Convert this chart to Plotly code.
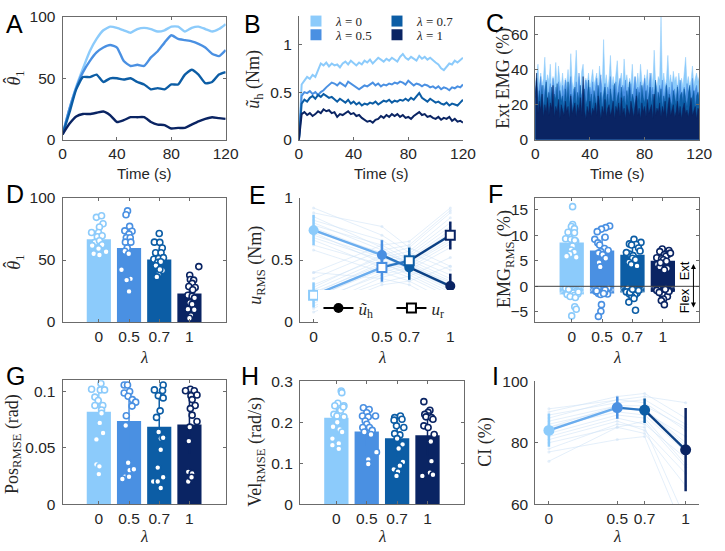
import plotly.graph_objects as go

W, H = 725, 551

# ---------------- data ----------------
lam_labels = ['0', '0.5', '0.7', '1']
lam_vals = [0, 0.5, 0.7, 1]
bar_pos = [1, 2, 3, 4]
colors = ['#8CCBFB', '#4A90E2', '#0C5DA5', '#0A2463']

# A: theta_hat over time (5 s samples)
t_A = list(range(0, 121, 5))
thetaA_0 = [4.5, 25, 43, 58, 72, 82, 89, 92, 91, 89, 87, 90, 91, 90, 88, 89, 92, 92, 88, 91, 92, 90, 88, 90, 94]
thetaA_05 = [4.5, 25, 42, 55, 64, 71, 75, 77, 75, 64, 60, 61, 60, 67, 72, 79, 85, 82, 81, 80, 78, 75, 70, 68, 73]
thetaA_07 = [4.5, 22, 41, 51, 51, 53, 47, 50, 50, 49, 50, 47, 45, 41, 42, 41, 45, 45, 53, 57, 53, 46, 47, 53, 55]
thetaA_1 = [4.5, 13, 19, 21, 21, 22, 23, 20, 14.5, 16, 18.4, 18.4, 18.4, 14.5, 12.4, 12, 9.2, 9.7, 9.7, 12.4, 15, 17, 18.4, 17.6, 17]

# B: u_h over time (2 s samples)
t_B = list(range(0, 121, 2))
uhB_0 = [0.00, 0.58, 0.62, 0.66, 0.64, 0.68, 0.66, 0.74, 0.80, 0.78,
         0.81, 0.77, 0.80, 0.78, 0.79, 0.76, 0.80, 0.82, 0.79, 0.83,
         0.80, 0.78, 0.81, 0.79, 0.83, 0.81, 0.84, 0.80, 0.83, 0.86,
         0.84, 0.82, 0.85, 0.83, 0.86, 0.84, 0.82, 0.87, 0.90, 0.86,
         0.84, 0.87, 0.85, 0.83, 0.88, 0.85, 0.87, 0.84, 0.86, 0.83,
         0.81, 0.79, 0.75, 0.73, 0.77, 0.80, 0.79, 0.83, 0.81, 0.84,
         0.86]
uhB_05 = [0.00, 0.46, 0.50, 0.49, 0.51, 0.48, 0.50, 0.47, 0.50, 0.52,
          0.55, 0.58, 0.60, 0.59, 0.57, 0.60, 0.58, 0.56, 0.61, 0.59,
          0.57, 0.55, 0.53, 0.55, 0.57, 0.56, 0.58, 0.60, 0.57, 0.59,
          0.56, 0.58, 0.57, 0.59, 0.58, 0.60, 0.59, 0.61, 0.60, 0.58,
          0.62, 0.59, 0.57, 0.59, 0.58, 0.56, 0.58, 0.57, 0.55, 0.56,
          0.54, 0.56, 0.53, 0.55, 0.54, 0.52, 0.55, 0.54, 0.56, 0.55,
          0.58]
uhB_07 = [0.00, 0.38, 0.42, 0.40, 0.44, 0.46, 0.43, 0.47, 0.45, 0.48,
          0.46, 0.44, 0.45, 0.42, 0.40, 0.43, 0.41, 0.39, 0.42, 0.38,
          0.40, 0.37, 0.39, 0.36, 0.38, 0.37, 0.39, 0.38, 0.40, 0.37,
          0.39, 0.41, 0.40, 0.42, 0.39, 0.41, 0.40, 0.42, 0.41, 0.43,
          0.41, 0.44, 0.42, 0.45, 0.49, 0.44, 0.42, 0.40, 0.43, 0.41,
          0.39, 0.40, 0.38, 0.37, 0.39, 0.36, 0.38, 0.37, 0.36, 0.39,
          0.42]
uhB_1 = [0.00, 0.27, 0.29, 0.26, 0.28, 0.25, 0.27, 0.30, 0.28, 0.32,
         0.30, 0.31, 0.28, 0.29, 0.24, 0.27, 0.26, 0.28, 0.30, 0.27,
         0.28, 0.25, 0.26, 0.23, 0.21, 0.19, 0.20, 0.18, 0.21, 0.22,
         0.25, 0.23, 0.26, 0.24, 0.27, 0.25, 0.27, 0.24, 0.26, 0.23,
         0.24, 0.22, 0.25, 0.27, 0.29, 0.26, 0.27, 0.24, 0.25, 0.23,
         0.22, 0.24, 0.21, 0.23, 0.22, 0.24, 0.20, 0.22, 0.19, 0.20,
         0.18]

# C: extensor EMG over time (1 s samples)
t_C = list(range(0, 121, 1))
emgC_0 = [32, 36, 43, 29, 38, 31, 35, 47, 30, 37,
          33, 43, 28, 36, 31, 44, 29, 42, 34, 30,
          38, 28, 35, 32, 40, 30, 49, 33, 29, 37,
          51, 31, 36, 28, 39, 43, 30, 35, 32, 38,
          29, 36, 40, 31, 34, 38, 28, 42, 33, 30,
          57, 32, 37, 29, 35, 48, 31, 36, 30, 39,
          45, 30, 34, 38, 29, 46, 33, 37, 30, 35,
          32, 43, 29, 36, 31, 38, 30, 43, 34, 29,
          37, 32, 40, 30, 35, 38, 31, 51, 33, 29,
          36, 34, 70, 31, 38, 30, 35, 48, 32, 37,
          30, 39, 33, 36, 29, 38, 31, 35, 30, 37,
          47, 32, 36, 30, 34, 42, 31, 35, 38, 33,
          36]
emgC_05 = [27, 33, 24, 30, 36, 22, 31, 27, 34, 23,
           29, 32, 21, 35, 26, 30, 24, 33, 28, 22,
           31, 25, 34, 27, 23, 30, 36, 24, 29, 26,
           33, 22, 38, 27, 25, 31, 23, 34, 28, 24,
           30, 26, 33, 22, 29, 35, 25, 31, 37, 23,
           28, 32, 24, 30, 27, 36, 22, 31, 26, 33,
           25, 29, 35, 23, 31, 27, 34, 24, 30, 26,
           32, 23, 28, 36, 25, 30, 27, 33, 22, 29,
           35, 26, 31, 24, 38, 27, 30, 23, 33, 28,
           25, 31, 27, 34, 22, 29, 32, 26, 30, 24,
           33, 27, 29, 23, 31, 26, 34, 25, 28, 30,
           24, 32, 27, 30, 23, 35, 26, 29, 31, 25,
           28]
emgC_07 = [26, 35, 19, 28, 22, 31, 18, 25, 33, 20,
           27, 21, 30, 17, 26, 23, 32, 19, 28, 22,
           25, 18, 29, 21, 33, 20, 26, 17, 24, 30,
           19, 27, 22, 31, 18, 25, 29, 20, 23, 34,
           21, 26, 18, 28, 24, 19, 31, 22, 27, 17,
           25, 30, 20, 26, 18, 29, 23, 21, 32, 19,
           24, 27, 18, 30, 22, 25, 19, 28, 21, 33,
           20, 26, 23, 18, 29, 22, 27, 19, 31, 24,
           21, 28, 18, 25, 30, 20, 26, 22, 34, 19,
           27, 23, 29, 18, 25, 21, 31, 20, 26, 22,
           19, 28, 24, 20, 30, 18, 25, 27, 21, 29,
           23, 19, 26, 31, 20, 24, 28, 18, 25, 27,
           22]
emgC_1 = [24, 38, 15, 22, 17, 26, 13, 20, 16, 24,
          14, 21, 18, 31, 13, 19, 16, 23, 12, 20,
          17, 14, 22, 16, 19, 12, 25, 15, 18, 21,
          13, 20, 16, 24, 14, 36, 17, 12, 19, 15,
          22, 13, 18, 16, 21, 14, 25, 17, 12, 19,
          15, 23, 13, 18, 20, 14, 17, 22, 12, 19,
          16, 21, 13, 24, 15, 18, 12, 20, 17, 14,
          22, 16, 13, 19, 25, 14, 18, 12, 21, 16,
          19, 13, 23, 15, 17, 20, 12, 26, 14, 18,
          16, 21, 13, 19, 15, 22, 12, 18, 24, 14,
          17, 20, 13, 16, 22, 14, 19, 12, 18, 21,
          15, 17, 13, 20, 24, 14, 16, 19, 12, 18,
          17]

# D: theta_hat per lambda
thetaD_mean = [66.8, 59.7, 50.4, 23.1]
thetaD_sd = [9, 15, 9, 10]
thetaD_pts = [
    [84.4, 85.7, 79.2, 76.6, 72.2, 72.2, 68.8, 69.6, 64.2, 65.5, 61.6, 62.3, 59.2, 56.6, 55.1, 54.0],
    [89.6, 86.5, 77.1, 73.5, 73.2, 70.9, 68.0, 68.0, 64.4, 64.4, 59.7, 57.1, 55.1, 42.1, 34.8, 33.8, 24.7],
    [71.4, 64.4, 64.2, 59.7, 55.8, 55.8, 50.6, 51.2, 51.9, 48.1, 48.6, 45.5, 41.6, 38.4, 36.4, 42.3],
    [44.7, 37.7, 34.3, 33.8, 31.2, 28.6, 27.8, 26.0, 21.6, 20.8, 19.5, 15.6, 14.3, 10.4, 9.9, 5.2, 3.1],
]
thetaD_jit = [
    [-0.08, 0.09, 0.14, 0.02, -0.24, -0.01, -0.05, 0.11, -0.13, 0.02, -0.22, 0.11, -0.01, 0.24, -0.17, 0.02],
    [-0.05, -0.10, 0.02, -0.14, 0.10, 0.0, -0.09, 0.04, -0.12, 0.06, -0.06, -0.14, -0.01, -0.25, 0.05, -0.08, 0.0],
    [0.0, -0.16, 0.02, 0.10, -0.12, 0.06, -0.18, -0.02, 0.14, -0.05, 0.05, -0.11, 0.11, -0.03, -0.08, 0.02],
    [0.31, 0.01, 0.03, 0.14, 0.09, -0.02, 0.19, 0.11, -0.05, 0.09, 0.17, 0.01, 0.09, -0.05, 0.16, 0.05, 0.0],
]

# E: RMS torques per lambda
uh_mean = [0.74, 0.54, 0.44, 0.29]
uh_hi = [0.865, 0.66, 0.545, 0.39]
uh_lo = [0.62, 0.415, 0.34, 0.195]
ur_mean = [0.215, 0.44, 0.495, 0.70]
ur_hi = [0.32, 0.56, 0.60, 0.81]
ur_lo = [0.117, 0.325, 0.40, 0.585]
uh_subj = [
    [0.92, 0.88, 0.85, 0.82, 0.80, 0.78, 0.76, 0.75, 0.73, 0.72, 0.70, 0.68, 0.66, 0.62, 0.58, 0.40],
    [0.70, 0.77, 0.60, 0.66, 0.58, 0.62, 0.55, 0.53, 0.56, 0.48, 0.52, 0.50, 0.44, 0.46, 0.40, 0.35],
    [0.56, 0.60, 0.47, 0.52, 0.46, 0.50, 0.44, 0.42, 0.48, 0.38, 0.45, 0.41, 0.36, 0.40, 0.33, 0.30],
    [0.42, 0.45, 0.30, 0.38, 0.28, 0.35, 0.27, 0.26, 0.33, 0.22, 0.32, 0.29, 0.20, 0.24, 0.16, 0.12],
]
ur_subj = [
    [0.08, 0.11, 0.13, 0.15, 0.17, 0.19, 0.20, 0.21, 0.22, 0.23, 0.24, 0.26, 0.28, 0.30, 0.35, 0.40],
    [0.30, 0.36, 0.32, 0.40, 0.38, 0.44, 0.42, 0.45, 0.43, 0.48, 0.46, 0.50, 0.54, 0.52, 0.58, 0.62],
    [0.33, 0.42, 0.37, 0.46, 0.44, 0.50, 0.47, 0.51, 0.48, 0.53, 0.49, 0.55, 0.60, 0.57, 0.62, 0.65],
    [0.45, 0.60, 0.52, 0.65, 0.63, 0.72, 0.67, 0.74, 0.69, 0.77, 0.70, 0.80, 0.88, 0.84, 0.90, 0.92],
]

# F: EMG RMS (ext positive, flex negative)
emgF_ext_mean = [8.57, 7.0, 6.2, 5.0]
emgF_ext_sd = [2.6, 2.9, 1.7, 1.4]
emgF_flex_mean = [-1.6, -1.4, -1.2, -1.1]
emgF_ext_pts = [
    [15.6, 12.1, 11.7, 11.3, 10.6, 10.5, 9.3, 9.2, 8.8, 7.9, 7.1, 6.7, 6.3, 5.9, 5.7, 9.0],
    [11.8, 11.5, 11.2, 10.7, 9.6, 9.2, 8.5, 8.1, 7.4, 6.8, 6.5, 6.2, 5.5, 4.6, 3.8, 7.0],
    [9.2, 8.6, 8.3, 8.2, 8.1, 7.5, 6.9, 6.3, 6.0, 5.5, 4.7, 4.6, 4.3, 4.0, 6.6, 5.2],
    [7.3, 7.0, 6.8, 6.3, 6.2, 5.9, 5.6, 5.4, 5.2, 4.9, 4.3, 3.8, 3.5, 3.2, 4.6, 6.5],
]
emgF_flex_pts = [
    [-0.4, -0.7, -0.9, -1.0, -1.2, -1.3, -1.5, -1.6, -1.8, -2.0, -2.2, -4.0, -4.5, -5.8, -0.6, -1.1],
    [-0.3, -0.6, -0.8, -1.0, -1.1, -1.3, -1.4, -1.5, -1.6, -1.2, -0.9, -3.6, -4.9, -5.9, -0.7, -1.4],
    [-0.3, -0.5, -0.7, -0.9, -1.0, -1.1, -1.3, -1.5, -1.7, -2.0, -2.4, -3.1, -4.7, -0.8, -1.2, -0.6],
    [-0.3, -0.5, -0.7, -0.9, -1.1, -1.3, -1.4, -1.7, -2.0, -2.5, -2.8, -3.6, -0.8, -1.0, -1.2, -0.6],
]
emgF_ext_jit = [
    [0.03, 0.03, -0.01, 0.09, -0.12, 0.09, -0.2, -0.03, 0.13, 0.03, -0.02, 0.09, -0.06, -0.17, 0.15, 0.1],
    [0.25, 0.12, -0.02, -0.16, 0.1, -0.24, -0.14, -0.08, 0.08, -0.04, -0.12, 0.02, 0.12, -0.1, -0.06, 0.2],
    [0.05, 0.28, -0.1, 0.12, -0.03, 0.2, 0.25, -0.1, 0.02, 0.0, -0.12, 0.07, -0.04, 0.15, -0.2, 0.1],
    [-0.02, 0.2, -0.1, 0.18, 0.05, 0.1, -0.2, -0.04, 0.02, 0.12, -0.18, -0.1, 0.15, 0.05, -0.08, 0.25],
]
emgF_flex_jit = [
    [-0.2, 0.1, -0.05, 0.15, -0.12, 0.05, 0.2, -0.15, 0.08, -0.05, 0.12, 0.1, 0.15, 0.0, -0.1, 0.22],
    [0.2, -0.1, 0.05, -0.2, 0.12, 0.0, -0.12, 0.18, -0.05, 0.08, -0.18, -0.02, -0.04, -0.12, 0.1, 0.05],
    [-0.15, 0.1, 0.2, -0.05, 0.05, -0.2, 0.15, -0.1, 0.08, -0.02, 0.05, -0.12, 0.1, 0.2, -0.08, 0.0],
    [0.1, -0.15, 0.05, 0.2, -0.1, 0.12, -0.05, 0.0, 0.15, 0.02, -0.05, 0.05, -0.2, 0.2, -0.12, 0.08],
]

# G: position RMSE
posG_mean = [0.0819, 0.0738, 0.0687, 0.0707]
posG_sd = [0.022, 0.026, 0.03, 0.026]
posG_pts = [
    [0.107, 0.102, 0.1014, 0.1014, 0.095, 0.092, 0.0876, 0.0876, 0.0836, 0.0807, 0.0721, 0.0632, 0.0575, 0.0353, 0.0336, 0.0267],
    [0.1057, 0.1057, 0.0986, 0.1000, 0.0957, 0.0928, 0.0905, 0.087, 0.0784, 0.0698, 0.0368, 0.0302, 0.031, 0.0244, 0.0244, 0.0224],
    [0.1014, 0.1057, 0.1009, 0.0963, 0.0943, 0.0828, 0.077, 0.0641, 0.0583, 0.0589, 0.0483, 0.0325, 0.0201, 0.0201, 0.0239, 0.0144],
    [0.102, 0.1006, 0.1006, 0.0963, 0.0968, 0.0928, 0.0876, 0.0848, 0.079, 0.0733, 0.0684, 0.056, 0.0287, 0.0273, 0.0201, 0.0239],
]
posG_jit = [
    [0.07, -0.24, 0.05, 0.19, -0.13, -0.02, -0.13, 0.13, 0.09, 0.09, 0.03, 0.14, -0.08, -0.08, 0.02, 0.0],
    [-0.16, -0.05, -0.16, 0.02, -0.03, 0.11, 0.22, 0.10, -0.09, -0.11, -0.03, 0.02, 0.16, -0.14, 0.0, -0.22],
    [-0.16, 0.13, 0.11, -0.03, 0.13, 0.03, -0.09, -0.02, 0.05, 0.13, 0.05, -0.05, -0.2, -0.05, 0.13, 0.05],
    [0.03, -0.13, 0.16, 0.05, 0.25, 0.09, 0.19, 0.03, 0.09, 0.25, 0.01, -0.02, -0.04, 0.09, -0.04, 0.07],
]

# H: velocity RMSE
velH_mean = [0.211, 0.177, 0.161, 0.168]
velH_sd = [0.04, 0.035, 0.045, 0.05]
velH_pts = [
    [0.276, 0.272, 0.246, 0.240, 0.240, 0.229, 0.237, 0.219, 0.215, 0.213, 0.200, 0.189, 0.182, 0.176, 0.160, 0.148, 0.144, 0.135],
    [0.235, 0.231, 0.223, 0.215, 0.213, 0.215, 0.203, 0.195, 0.187, 0.187, 0.180, 0.127, 0.109, 0.098, 0.176, 0.170],
    [0.211, 0.215, 0.207, 0.205, 0.191, 0.187, 0.169, 0.172, 0.146, 0.136, 0.103, 0.094, 0.085, 0.079, 0.069, 0.160],
    [0.250, 0.229, 0.224, 0.219, 0.215, 0.213, 0.211, 0.207, 0.191, 0.187, 0.170, 0.153, 0.105, 0.069, 0.077, 0.072],
]
velH_jit = [
    [0.16, 0.18, 0.05, 0.25, -0.05, 0.14, 0.23, -0.08, 0.02, 0.25, 0.03, -0.11, 0.11, 0.19, -0.13, 0.08, -0.13, 0.08],
    [-0.11, 0.08, 0.0, -0.14, 0.05, 0.29, -0.05, 0.0, -0.13, 0.09, 0.18, 0.32, 0.05, 0.05, -0.08, 0.14],
    [-0.08, 0.11, 0.16, -0.1, -0.02, 0.22, 0.09, -0.08, 0.18, 0.05, 0.19, 0.09, -0.11, 0.03, -0.02, 0.0],
    [-0.12, 0.08, 0.02, -0.09, 0.05, -0.05, 0.13, 0.18, -0.12, 0.02, 0.22, 0.11, 0.13, -0.17, 0.08, 0.18],
]

# I: compliance index
ci_mean = [84.0, 91.4, 90.6, 77.7]
ci_hi = [89.5, 95.0, 94.4, 91.3]
ci_lo = [78.7, 87.8, 86.4, 64.2]
ci_subj = [
    [91, 90, 89, 88, 87, 86, 85, 85, 84, 83, 82, 81, 80, 78, 77, 74],
    [94, 95, 93, 94, 92, 91, 92, 90, 91, 89, 88, 87, 85, 86, 81, 85],
    [95, 96, 94, 93, 92, 91, 90, 89, 91, 88, 86, 84, 83, 85, 82, 87],
    [93, 88, 86, 84, 85, 80, 82, 77, 79, 73, 75, 70, 66, 55, 50, 72],
]

# ---------------- styling helpers ----------------
SANS = 'Liberation Sans, Arial, sans-serif'
SERIF = 'Liberation Serif, Times New Roman, serif'
TXT = '#262626'
AXC = '#6b6b6b'
FAINT = 'rgba(205,225,246,0.55)'


def mix(a, b):
    a = a.lstrip('#'); b = b.lstrip('#')
    ca = [int(a[i:i + 2], 16) for i in (0, 2, 4)]
    cb = [int(b[i:i + 2], 16) for i in (0, 2, 4)]
    return 'rgb(%d,%d,%d)' % tuple((x + y) // 2 for x, y in zip(ca, cb))


def px(xp):
    return xp / W


def py(yp):
    return 1 - yp / H


boxes = {1: (60, 227, 8, 135), 2: (302, 470, 7, 135), 3: (544, 712, 8, 135),
         4: (60, 227, 195, 323), 5: (303, 471, 195, 323), 6: (544, 712, 195, 323),
         7: (60, 227, 383, 511), 8: (303, 471, 384, 511), 9: (544, 712, 384, 511)}
boxed = {1: True, 2: False, 3: True, 4: True, 5: False, 6: True, 7: True, 8: True, 9: False}

layout = dict(width=W, height=H, margin=dict(l=0, r=0, t=0, b=0),
              paper_bgcolor='white', plot_bgcolor='white', barmode='overlay',
              showlegend=True)

for i in range(1, 10):
    x0, x1, y0, y1 = boxes[i]
    s = '' if i == 1 else str(i)
    common = dict(showline=True, linecolor=AXC, linewidth=1, ticks='inside', ticklen=3,
                  tickcolor=AXC, tickwidth=1, showgrid=False, zeroline=False,
                  tickfont=dict(family=SANS, size=15.5, color=TXT),
                  mirror='ticks' if boxed[i] else False, fixedrange=True)
    layout['xaxis' + s] = dict(domain=[x0 / W, x1 / W], anchor='y' + s, ticklabelstandoff=0, **common)
    layout['yaxis' + s] = dict(domain=[1 - y1 / H, 1 - y0 / H], anchor='x' + s, ticklabelstandoff=3, **common)

time_ax = dict(range=[0, 120], tickvals=[0, 40, 80, 120])
bar_ax = dict(range=[-0.2, 5.2], tickvals=bar_pos, ticktext=lam_labels)
lam_ax = dict(range=[-0.1, 1.1], tickvals=lam_vals, ticktext=lam_labels)
for s in ['', '2', '3']:
    layout['xaxis' + s].update(time_ax)
for s in ['4', '6', '7', '8']:
    layout['xaxis' + s].update(bar_ax)
for s in ['5', '9']:
    layout['xaxis' + s].update(lam_ax)
layout['yaxis'].update(range=[0, 100], tickvals=[0, 50, 100])
layout['yaxis2'].update(range=[0, 1.3], tickvals=[0, 0.5, 1], ticktext=['0', '0.5', '1'])
layout['yaxis3'].update(range=[0, 70], tickvals=[0, 20, 40, 60])
layout['yaxis4'].update(range=[0, 100], tickvals=[0, 50, 100])
layout['yaxis5'].update(range=[0, 1], tickvals=[0, 0.5, 1], ticktext=['0', '0.5', '1'])
layout['yaxis6'].update(range=[-7, 17.3], tickvals=[-5, 0, 5, 10, 15])
layout['yaxis7'].update(range=[0, 0.11], tickvals=[0, 0.05, 0.1], ticktext=['0', '0.05', '0.1'])
layout['yaxis8'].update(range=[0, 0.3], tickvals=[0, 0.1, 0.2, 0.3], ticktext=['0', '0.1', '0.2', '0.3'])
layout['yaxis9'].update(range=[60, 100], tickvals=[60, 80, 100])

fig = go.Figure()

# ---------------- A ----------------
for k, ys in enumerate([thetaA_0, thetaA_05, thetaA_07, thetaA_1]):
    fig.add_trace(go.Scatter(x=t_A, y=ys, mode='lines', xaxis='x', yaxis='y', showlegend=False,
                             line=dict(color=colors[k], width=2.4, shape='spline', smoothing=0.5)))

# ---------------- B ----------------
for k, ys in enumerate([uhB_0, uhB_05, uhB_07, uhB_1]):
    fig.add_trace(go.Scatter(x=t_B, y=ys, mode='lines', xaxis='x2', yaxis='y2', showlegend=False,
                             line=dict(color=colors[k], width=2)))
leg_rank = [1, 3, 2, 4]
leg_id = ['legend', 'legend3', 'legend', 'legend3']
for k in range(4):
    fig.add_trace(go.Scatter(x=[None], y=[None], mode='markers', xaxis='x2', yaxis='y2',
                             name='<i>λ</i> = ' + lam_labels[k], legend=leg_id[k], legendrank=leg_rank[k],
                             marker=dict(symbol='square', size=11, color=colors[k])))

# ---------------- C ----------------
for k, ys in enumerate([emgC_0, emgC_05, emgC_07, emgC_1]):
    fig.add_trace(go.Scatter(x=t_C, y=ys, mode='lines', fill='tozeroy', fillcolor=colors[k],
                             xaxis='x3', yaxis='y3', showlegend=False,
                             line=dict(color=colors[k], width=0.5)))


# ---------------- bar panels ----------------
def bar_panel(xa, ya, means, sds, pts, jits):
    for k in range(4):
        fig.add_trace(go.Bar(x=[bar_pos[k]], y=[means[k]], width=0.8, xaxis=xa, yaxis=ya,
                             showlegend=False, marker=dict(color=colors[k], line=dict(width=0)),
                             error_y=dict(type='data', array=[sds[k]], color=colors[k],
                                          thickness=1.5, width=0)))
    for k in range(4):
        fig.add_trace(go.Scatter(x=[bar_pos[k] + j for j in jits[k]], y=pts[k], mode='markers',
                                 xaxis=xa, yaxis=ya, showlegend=False, cliponaxis=True,
                                 marker=dict(symbol='circle', size=6, color='white',
                                             line=dict(color=colors[k], width=1.6))))


bar_panel('x4', 'y4', thetaD_mean, thetaD_sd, thetaD_pts, thetaD_jit)
bar_panel('x7', 'y7', posG_mean, posG_sd, posG_pts, posG_jit)
bar_panel('x8', 'y8', velH_mean, velH_sd, velH_pts, velH_jit)

# F
for k in range(4):
    fig.add_trace(go.Bar(x=[bar_pos[k]], y=[emgF_ext_mean[k]], width=0.8, xaxis='x6', yaxis='y6',
                         showlegend=False, marker=dict(color=colors[k], line=dict(width=0)),
                         error_y=dict(type='data', array=[emgF_ext_sd[k]], color=colors[k],
                                      thickness=1.5, width=0)))
    fig.add_trace(go.Bar(x=[bar_pos[k]], y=[emgF_flex_mean[k]], width=0.8, xaxis='x6', yaxis='y6',
                         showlegend=False,
                         marker=dict(color=colors[k], line=dict(width=0),
                                     pattern=dict(shape='x', fgcolor='white', bgcolor=colors[k],
                                                  size=5, solidity=0.35))))
for k in range(4):
    fig.add_trace(go.Scatter(x=[bar_pos[k] + j for j in emgF_ext_jit[k] + emgF_flex_jit[k]],
                             y=emgF_ext_pts[k] + emgF_flex_pts[k], mode='markers',
                             xaxis='x6', yaxis='y6', showlegend=False,
                             marker=dict(symbol='circle', size=6, color='white',
                                         line=dict(color=colors[k], width=1.6))))


# ---------------- line-with-errorbar panels ----------------
def subj_lines(xa, ya, subj):
    n = len(subj[0])
    for s_ in range(n):
        fig.add_trace(go.Scatter(x=lam_vals, y=[subj[j][s_] for j in range(4)], mode='lines+markers',
                                 xaxis=xa, yaxis=ya, showlegend=False,
                                 line=dict(color=FAINT, width=1), marker=dict(size=3, color=FAINT)))


def mean_line(xa, ya, mean, hi, lo, symbol, filled, msize):
    for j in range(3):
        fig.add_trace(go.Scatter(x=lam_vals[j:j + 2], y=mean[j:j + 2], mode='lines', xaxis=xa, yaxis=ya,
                                 showlegend=False, line=dict(color=mix(colors[j], colors[j + 1]), width=2.4)))
    for j in range(4):
        fig.add_trace(go.Scatter(
            x=[lam_vals[j]], y=[mean[j]], mode='markers', xaxis=xa, yaxis=ya, showlegend=False,
            error_y=dict(type='data', symmetric=False, array=[hi[j] - mean[j]], arrayminus=[mean[j] - lo[j]],
                         color=colors[j], thickness=2.5, width=0),
            marker=dict(symbol=symbol, size=msize, color=colors[j] if filled else 'white',
                        line=dict(color=colors[j], width=2 if not filled else 0))))


subj_lines('x5', 'y5', uh_subj)
subj_lines('x5', 'y5', ur_subj)
mean_line('x5', 'y5', uh_mean, uh_hi, uh_lo, 'circle', True, 10)
mean_line('x5', 'y5', ur_mean, ur_hi, ur_lo, 'square', False, 9)
fig.add_trace(go.Scatter(x=[None], y=[None], mode='lines+markers', xaxis='x5', yaxis='y5',
                         name='<i>ũ</i><sub>h</sub>', legend='legend2',
                         line=dict(color='black', width=2), marker=dict(symbol='circle', size=10, color='black')))
fig.add_trace(go.Scatter(x=[None], y=[None], mode='lines+markers', xaxis='x5', yaxis='y5',
                         name='<i>u</i><sub>r</sub>', legend='legend2',
                         line=dict(color='black', width=2),
                         marker=dict(symbol='square', size=9, color='white', line=dict(color='black', width=2))))

subj_lines('x9', 'y9', ci_subj)
mean_line('x9', 'y9', ci_mean, ci_hi, ci_lo, 'circle', True, 11)

# ---------------- legends ----------------
leg_common = dict(orientation='h', xanchor='left', yanchor='middle', bgcolor='rgba(0,0,0,0)',
                  borderwidth=0, font=dict(family=SERIF, size=13, color=TXT),
                  entrywidth=36, entrywidthmode='pixels', itemclick=False, itemdoubleclick=False)
layout['legend'] = dict(x=px(299), y=py(12.5), **leg_common)
layout['legend3'] = dict(x=px(299), y=py(26.5), **leg_common)
layout['legend2'] = dict(x=px(322), y=py(309), orientation='h', xanchor='left', yanchor='middle',
                         bgcolor='white', borderwidth=0, font=dict(family=SERIF, size=17, color=TXT),
                         entrywidth=28, entrywidthmode='pixels', itemclick=False, itemdoubleclick=False)

# ---------------- annotations ----------------
ann = []


def text(xp, yp, t, size, family, angle=0, color=TXT, xanchor='center'):
    ann.append(dict(x=px(xp), y=py(yp), xref='paper', yref='paper', text=t, showarrow=False,
                    textangle=angle, xanchor=xanchor, yanchor='middle',
                    font=dict(family=family, size=size, color=color)))


for L, (xp, yp) in zip('ABCDEFGHI', [(11, 15), (254, 15), (503, 14), (11, 191), (260, 192),
                                      (503, 191), (12, 379), (252, 379), (503, 379)]):
    text(xp, yp, L, 25, SANS, color='black')

for xc in (143, 386, 628):
    text(xc, 170, 'Time (s)', 15, SANS)
for xc in (143, 387, 628):
    text(xc, 360, '<i>λ</i>', 17, SERIF)
    text(xc, 544, '<i>λ</i>', 17, SERIF)

# theta-hat_1 labels: theta with subscript, plus a circumflex accent above theta
for yc in (71, 261):
    text(12, yc, '<i>θ</i><sub>1</sub>', 18, SERIF, angle=-90)
    text(6, yc + 3, 'ˆ', 18, SERIF, angle=-90)
text(257, 72, '<i>ũ</i><sub>h</sub> (Nm)', 18, SERIF, angle=-90)
text(512, 71, 'Ext EMG (%)', 18, SERIF, angle=-90)
text(259, 264, '<i>u</i><sub>RMS</sub> (Nm)', 18, SERIF, angle=-90)
text(513, 258, 'EMG<sub>RMS</sub> (%)', 18, SERIF, angle=-90)
text(9, 449, 'Pos<sub>RMSE</sub> (rad)', 18, SERIF, angle=-90)
text(259, 457, 'Vel<sub>RMSE</sub> (rad/s)', 18, SERIF, angle=-90)
text(493, 447, 'CI (%)', 18, SERIF, angle=-90)

text(697, 270, 'Ext', 13, SANS, angle=-90, color='black')
text(697, 301, 'Flex', 13, SANS, angle=-90, color='black')
ann.append(dict(x=px(706), y=py(263), xref='paper', yref='paper', ax=0, ay=45, text='',
                showarrow=True, arrowhead=2, arrowside='end+start', arrowsize=1, arrowwidth=1,
                arrowcolor='black'))
layout['annotations'] = ann

layout['shapes'] = [dict(type='line', xref='x6 domain', yref='y6', x0=0, x1=1, y0=0, y1=0,
                         line=dict(color='#404040', width=1), layer='above')]

fig.update_layout(**layout)
fig.write_html('out.html')
